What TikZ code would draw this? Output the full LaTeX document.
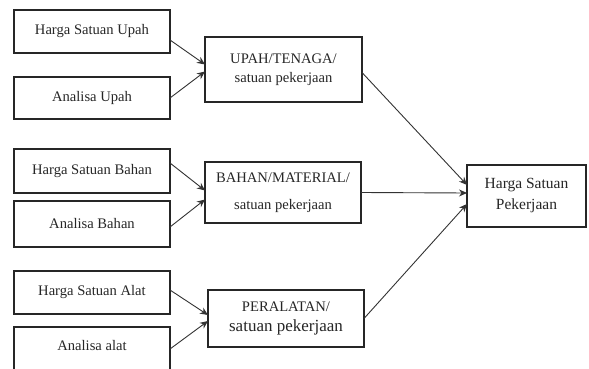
\documentclass[tikz,border=0pt]{standalone}
\usepackage{fontspec}
\setmainfont{Liberation Serif}
\usetikzlibrary{arrows.meta,calc}
\tikzset{
  box/.style={draw=black!85, line width=1.3pt, rectangle, inner sep=0pt, outer sep=0pt,
    align=center, font=\fontsize{14.6}{18}\selectfont, text=black!85},
  conn/.style={draw=black!80, line width=0.9pt, -{Stealth[length=8pt,width=7pt]}},
}
\begin{document}
\begin{tikzpicture}[x=1pt,y=-1pt]
\useasboundingbox (0,0) rectangle (589,369);
\clip (0,0) rectangle (589,369);
% left column
\node[box, minimum width=156pt, minimum height=43pt] (hsu) at (92,31.5) {Harga Satuan Upah};
\node[box, minimum width=156pt, minimum height=42pt] (au) at (92,98) {Analisa Upah};
\node[box, minimum width=156pt, minimum height=44pt] (hsb) at (92,171) {Harga Satuan Bahan};
\node[box, minimum width=156pt, minimum height=46pt] (ab) at (92,224) {Analisa Bahan};
\node[box, minimum width=156pt, minimum height=43pt] (hsa) at (92,292.5) {Harga Satuan Alat};
\node[box, minimum width=156pt, minimum height=46pt] (aa) at (92,350) {\raisebox{0pt}[0pt][0pt]{Analisa alat}};
% middle column
\node[box, minimum width=157pt, minimum height=65pt] (upah) at (283.5,69.5) {UPAH/TENAGA/\\[1pt]satuan pekerjaan};
\node[box, minimum width=156pt, minimum height=61pt] (bahan) at (283,192.5) {BAHAN/MATERIAL/\\[9pt]satuan pekerjaan};
\node[box, minimum width=156pt, minimum height=57pt] (peral) at (286,318.5) {PERALATAN/\\[2pt]{\fontsize{17}{20}\selectfont satuan pekerjaan}};
% right
\node[box, minimum width=119pt, minimum height=62pt, font=\fontsize{15.5}{21}\selectfont] (hsp) at (526.5,196) {Harga Satuan\\Pekerjaan};
% connectors
\draw[conn] ([yshift=-8.5pt]hsu.east) -- ([yshift=5pt]upah.west);
\draw[conn] (au.east) -- ([yshift=-2pt]upah.west);
\draw[conn] ([yshift=8pt]hsb.east) -- ([yshift=2pt]bahan.west);
\draw[conn] ([yshift=-3pt]ab.east) -- ([yshift=-7pt]bahan.west);
\draw[conn] ([yshift=2.5pt]hsa.east) -- ([yshift=3.5pt]peral.west);
\draw[conn] ([yshift=1pt]aa.east) -- ([yshift=-2.5pt]peral.west);
\draw[conn] ([yshift=-3pt]upah.east) -- ([yshift=11pt]hsp.west);
\draw[conn] (bahan.east) -- ([yshift=3pt]hsp.west);
\draw[conn] (peral.east) -- ([yshift=-8pt]hsp.west);
\end{tikzpicture}
\end{document}
